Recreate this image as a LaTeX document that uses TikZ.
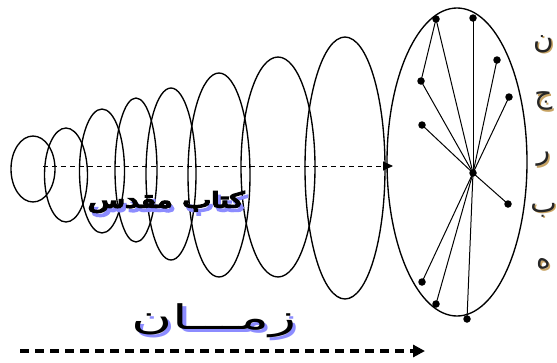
\documentclass[tikz,border=0pt]{standalone}
\usepackage{fontspec}
\usepackage{graphicx}
\usetikzlibrary{arrows.meta}
\newfontfamily\arabicfont[Script=Arabic]{DejaVu Sans}
\TeXXeTstate=1
\definecolor{shadowblue}{HTML}{8C8CFF}
\definecolor{shadowtan}{HTML}{C8A464}
% heavy strokes for the Arabic labels
\newcommand{\heavytext}[2]{\special{pdf:code 2 Tr #1 w}#2\special{pdf:code 0 Tr 0.4 w}}
% text with a coloured shadow behind it
\newcommand{\shadowed}[4]{\rlap{\kern#2\raisebox{#3}{\textcolor{#1}{#4}}}#4}
\tikzset{
  dot/.style={circle,fill=black,inner sep=0pt,minimum size=7.5pt},
  spoke/.style={line width=1pt},
  slice/.style={line width=1.35pt},
  letter/.style={font=\arabicfont\fontsize{28}{28}\selectfont,text=black!85,inner sep=0pt},
  booktext/.style={font=\arabicfont\fontsize{21}{21}\selectfont,inner sep=0pt},
  timetext/.style={font=\arabicfont\fontsize{34}{34}\selectfont,inner sep=0pt},
}

\begin{document}
\begin{tikzpicture}[x=1pt,y=-1pt,>=Triangle]
  \useasboundingbox (0,0) rectangle (557,362);
  % the slices that grow with time
  \foreach \cx/\cy/\rx/\ry in {33/169/22/33,66/175/21.5/47,102/171/22.5/62,136/170/21/72,
      171/174/25/86,219/175/31/102,278/167/37/110,345/168/40/131,457/162/70/154}{
    \draw[slice] (\cx,\cy) ellipse [x radius=\rx, y radius=\ry];
  }
  \coordinate (t0) at (43,166);
  \coordinate (t1) at (393,166);
  \draw[->,line width=0.9pt,dash pattern=on 5pt off 4pt,
        >={Triangle[length=10pt,width=9pt]}] (t0) -- (t1);
  % the points on the last slice
  \node[dot] (hub) at (473,173) {};
  \node[dot] (a) at (436,19) {};
  \node[dot] (b) at (473,18) {};
  \node[dot] (c) at (497,60) {};
  \node[dot] (d) at (421,81) {};
  \node[dot] (e) at (509,97) {};
  \node[dot] (f) at (422,125) {};
  \node[dot] (g) at (508,204) {};
  \node[dot] (h) at (422,282) {};
  \node[dot] (i) at (436,304) {};
  \node[dot] (j) at (467,319) {};
  \foreach \p in {a,b,c,d,e,f,g,h,i,j}
    \draw[spoke] (hub.center) -- (\p.center);
  \draw[spoke] (a.center) -- (d.center);
  % labels
  \node[booktext] (book) at (166,204)
    {\scalebox{1.45}[1]{\heavytext{1.6}{\shadowed{shadowblue}{2pt}{-4pt}{\beginR كتاب مقدس\endR}}}};
  \node[timetext] (time) at (214,322)
    {\scalebox{1.65}[1]{\shadowed{shadowblue}{2pt}{-3pt}{\beginR زمـــان\endR}}};
  \foreach \y/\l [count=\k] in {45/ن,102/ج,160/ر,211/ب,265/ه}{
    \node[letter] (l\k) at (543.5,\y) {\shadowed{shadowtan}{1.5pt}{-1.5pt}{\beginR \l\endR}};
  }
  \coordinate (s0) at (20,351);
  \coordinate (s1) at (425,351);
  \draw[->,line width=3.5pt,dash pattern=on 9pt off 6pt,
        >={Triangle[length=12pt,width=12pt]}] (s0) -- (s1);
\end{tikzpicture}
\end{document}
